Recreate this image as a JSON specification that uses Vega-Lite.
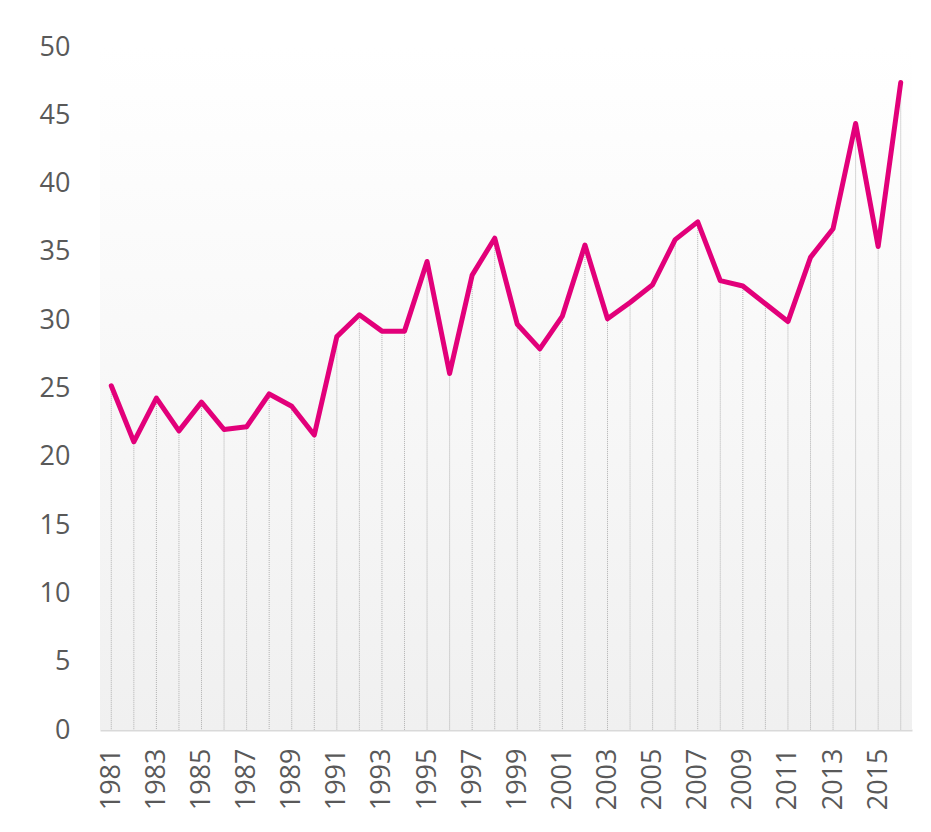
{
  "$schema": "https://vega.github.io/schema/vega-lite/v6.json",
  "width": 812,
  "height": 683,
  "autosize": {"type": "none"},
  "padding": {"left": 100, "top": 47, "right": 19, "bottom": 102},
  "background": "white",
  "config": {
    "view": {"stroke": null},
    "font": "Open Sans"
  },
  "data": {
    "values": [
      {"year": 1981, "value": 25.2},
      {"year": 1982, "value": 21.1},
      {"year": 1983, "value": 24.3},
      {"year": 1984, "value": 21.9},
      {"year": 1985, "value": 24.0},
      {"year": 1986, "value": 22.0},
      {"year": 1987, "value": 22.2},
      {"year": 1988, "value": 24.6},
      {"year": 1989, "value": 23.7},
      {"year": 1990, "value": 21.6},
      {"year": 1991, "value": 28.8},
      {"year": 1992, "value": 30.4},
      {"year": 1993, "value": 29.2},
      {"year": 1994, "value": 29.2},
      {"year": 1995, "value": 34.3},
      {"year": 1996, "value": 26.1},
      {"year": 1997, "value": 33.3},
      {"year": 1998, "value": 36.0},
      {"year": 1999, "value": 29.7},
      {"year": 2000, "value": 27.9},
      {"year": 2001, "value": 30.3},
      {"year": 2002, "value": 35.5},
      {"year": 2003, "value": 30.1},
      {"year": 2004, "value": 31.3},
      {"year": 2005, "value": 32.6},
      {"year": 2006, "value": 35.9},
      {"year": 2007, "value": 37.2},
      {"year": 2008, "value": 32.9},
      {"year": 2009, "value": 32.5},
      {"year": 2010, "value": 31.2},
      {"year": 2011, "value": 29.9},
      {"year": 2012, "value": 34.6},
      {"year": 2013, "value": 36.7},
      {"year": 2014, "value": 44.4},
      {"year": 2015, "value": 35.4},
      {"year": 2016, "value": 47.4}
    ]
  },
  "encoding": {
    "x": {
      "field": "year",
      "type": "ordinal",
      "scale": {"type": "point", "padding": 0.5},
      "axis": {
        "title": null,
        "labelAngle": -90,
        "labelAlign": "right",
        "labelBaseline": "middle",
        "labelFontSize": 27,
        "labelColor": "#595959",
        "labelPadding": 18,
        "labelExpr": "datum.value % 2 == 1 ? datum.label : ''",
        "ticks": false,
        "domainColor": "#d9d9d9",
        "domainWidth": 2,
        "grid": false
      }
    }
  },
  "layer": [
    {
      "mark": {
        "type": "rect",
        "color": {
          "gradient": "linear",
          "x1": 0, "y1": 0, "x2": 0, "y2": 1,
          "stops": [
            {"offset": 0, "color": "#ffffff"},
            {"offset": 1, "color": "#f0f0f0"}
          ]
        }
      },
      "encoding": {
        "x": null,
        "y": {"datum": 0, "type": "quantitative"},
        "y2": {"datum": 50}
      }
    },
    {
      "mark": {"type": "rule", "color": "#b0b0b0", "strokeWidth": 1, "strokeDash": [1, 1]},
      "encoding": {
        "y": {"field": "value", "type": "quantitative"},
        "y2": {"datum": 0}
      }
    },
    {
      "mark": {"type": "line", "color": "#E2007A", "strokeWidth": 5, "strokeJoin": "round", "strokeCap": "round"},
      "encoding": {
        "y": {
          "field": "value",
          "type": "quantitative",
          "scale": {"domain": [0, 50], "nice": false},
          "axis": {
            "title": null,
            "values": [0, 5, 10, 15, 20, 25, 30, 35, 40, 45, 50],
            "labelFontSize": 27,
            "labelColor": "#595959",
            "labelPadding": 30,
            "ticks": false,
            "domain": false,
            "grid": false
          }
        }
      }
    }
  ]
}
